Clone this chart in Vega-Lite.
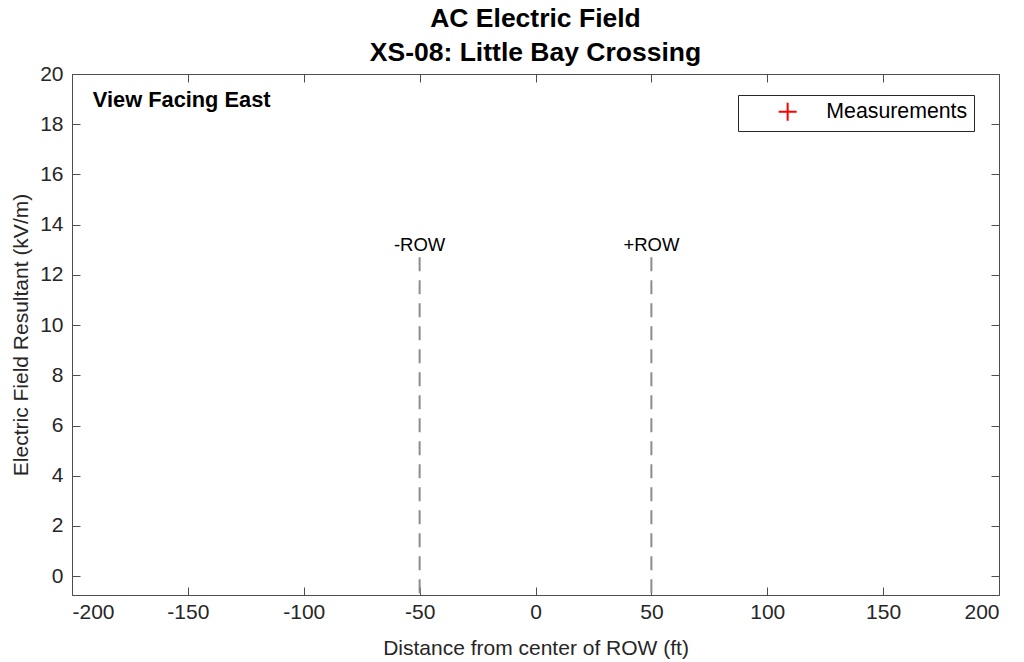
{
  "$schema": "https://vega.github.io/schema/vega-lite/v6.json",
  "width": 927,
  "height": 521,
  "autosize": {"type": "none"},
  "padding": {"left": 72, "top": 74, "right": 25, "bottom": 67},
  "background": "white",
  "config": {
    "font": "Liberation Sans",
    "view": {"stroke": "#4d4d4d", "strokeWidth": 1},
    "axis": {
      "grid": false,
      "domain": false,
      "tickColor": "#4d4d4d",
      "tickSize": -8,
      "labelFont": "Liberation Sans",
      "labelFontSize": 21,
      "labelColor": "#262626",
      "titleFont": "Liberation Sans",
      "titleFontSize": 21,
      "titleFontWeight": "normal",
      "titleColor": "#262626"
    }
  },
  "title": {
    "text": ["AC Electric Field", "XS-08: Little Bay Crossing"],
    "fontSize": 26.5,
    "fontWeight": "bold",
    "color": "#000000",
    "lineHeight": 34,
    "anchor": "middle",
    "offset": -3
  },
  "layer": [
    {
      "data": {"values": [{"distance": -50, "label": "-ROW"}, {"distance": 50, "label": "+ROW"}]},
      "mark": {"type": "rule", "color": "#8c8c8c", "strokeWidth": 2, "strokeDash": [14, 9]},
      "encoding": {
        "x": {"field": "distance", "type": "quantitative", "scale": {"domain": [-200, 200], "nice": false, "zero": false},
          "axis": {"orient": "bottom", "values": [-200, -150, -100, -50, 0, 50, 100, 150, 200], "labelPadding": 14, "labelExpr": "replace(datum.label, '−', '-')", "title": "Distance from center of ROW (ft)", "titlePadding": 15}},
        "y": {"datum": 12.7, "type": "quantitative", "scale": {"domain": [-0.75, 20], "nice": false, "zero": false},
          "axis": {"orient": "left", "values": [0, 2, 4, 6, 8, 10, 12, 14, 16, 18, 20], "labelPadding": 17, "title": "Electric Field Resultant (kV/m)", "titlePadding": 8}},
        "y2": {"datum": -0.75}
      }
    },
    {
      "data": {"values": [{"distance": -50, "label": "-ROW"}, {"distance": 50, "label": "+ROW"}]},
      "mark": {"type": "text", "fontSize": 18.5, "color": "#000000", "align": "center", "baseline": "middle"},
      "encoding": {
        "x": {"field": "distance", "type": "quantitative", "axis": null},
        "y": {"datum": 13.2, "type": "quantitative", "axis": null},
        "text": {"field": "label"}
      }
    },
    {
      "data": {"values": [{"note": "View Facing East"}]},
      "mark": {"type": "text", "fontSize": 21.8, "fontWeight": "bold", "color": "#000000", "align": "left", "baseline": "middle"},
      "encoding": {
        "x": {"datum": -191, "type": "quantitative",
          "axis": {"orient": "top", "values": [-200, -150, -100, -50, 0, 50, 100, 150, 200], "labels": false, "title": null}},
        "y": {"datum": 18.96, "type": "quantitative",
          "axis": {"orient": "right", "values": [0, 2, 4, 6, 8, 10, 12, 14, 16, 18, 20], "labels": false, "title": null}},
        "text": {"field": "note"}
      }
    },
    {
      "data": {"values": []},
      "mark": {"type": "point", "shape": "M-1,0H1M0,-1V1", "filled": false, "strokeWidth": 2, "size": 324, "opacity": 1},
      "encoding": {
        "x": {"field": "distance", "type": "quantitative", "axis": null},
        "y": {"field": "efield", "type": "quantitative", "axis": null},
        "color": {"field": "series", "type": "nominal",
          "scale": {"domain": ["Measurements"], "range": ["#ff0000"]},
          "legend": {"orient": "none", "legendX": 666, "legendY": 21, "title": null,
            "strokeColor": "#262626", "fillColor": "#ffffff", "padding": 6,
            "symbolType": "M-1,0H1M0,-1V1", "symbolSize": 324, "symbolStrokeWidth": 2, "symbolOpacity": 1,
            "symbolOffset": 33, "labelOffset": 28, "labelFontSize": 21.3, "labelColor": "#000000", "labelFont": "Liberation Sans"}}
      }
    }
  ]
}
